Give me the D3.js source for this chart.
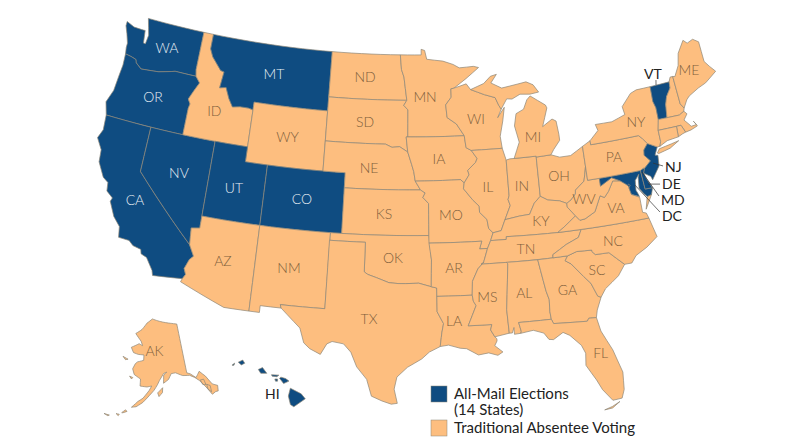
<![CDATA[<!DOCTYPE html>
<html>
<head>
<meta charset="utf-8">
<script src="https://cdn.jsdelivr.net/npm/d3@7"></script>
<style>
  html, body { margin: 0; padding: 0; background: #fff; }
  svg { display: block; }
  text { font-family: Lato, sans-serif; }
</style>
</head>
<body>
<svg id="map" width="800" height="447"></svg>
<script>
// State outlines as [lon, lat], read off the picture / rough geography
const WA = [[[-124.7,48.4],[-123.9,48.17],[-123.1,48.15],[-122.75,48.15],[-122.6,47.3],[-122.4,47.3],[-122.3,47.9],[-122.5,48.4],[-122.75,49],[-117.03,49],[-117.04,46.42],[-116.92,45.99],[-118.98,46],[-119.3,45.93],[-120.5,45.7],[-121.2,45.65],[-122.2,45.58],[-122.8,45.9],[-122.9,46.1],[-123.4,46.2],[-124,46.27],[-124.1,46.7],[-124.1,47],[-124.4,47.6],[-124.7,48.1]]];
const OR = [[[-124,46.27],[-123.4,46.2],[-122.9,46.1],[-122.8,45.9],[-122.2,45.58],[-121.2,45.65],[-120.5,45.7],[-119.3,45.93],[-118.98,46],[-116.92,45.99],[-116.46,45.6],[-116.85,45],[-117.2,44.4],[-116.95,44.1],[-117.03,43.8],[-117.03,42],[-124.2,42],[-124.55,42.84],[-124.15,43.7],[-124.05,44.7],[-123.95,45.5]]];
const CA = [[[-124.2,42],[-120,42],[-120,39],[-114.63,35],[-114.14,34.3],[-114.43,34.05],[-114.72,33.4],[-114.52,33.03],[-114.72,32.72],[-117.12,32.53],[-117.25,32.85],[-117.9,33.6],[-118.4,33.75],[-118.5,34.03],[-119.2,34.15],[-119.6,34.42],[-120.5,34.45],[-120.65,35.15],[-121.3,35.7],[-121.9,36.6],[-121.8,36.85],[-122.4,37.2],[-122.5,37.75],[-123,38],[-123.7,38.9],[-123.8,39.7],[-124.4,40.4],[-124.1,41]]];
const NV = [[[-120,42],[-114.04,42],[-114.04,36.2],[-114.75,36.1],[-114.63,35],[-120,39]]];
const ID = [[[-117.03,49],[-116.05,49],[-116.05,48],[-115.7,47.5],[-114.7,46.7],[-114.35,46.65],[-114.5,45.55],[-113.9,45.65],[-113.45,44.95],[-113,44.45],[-112.3,44.55],[-111.5,44.55],[-111.05,44.48],[-111.05,42],[-117.03,42],[-117.03,43.8],[-116.95,44.1],[-117.2,44.4],[-116.85,45],[-116.46,45.6],[-116.92,45.99],[-117.04,46.42]]];
const MT = [[[-116.05,49],[-104.05,49],[-104.05,45],[-111.05,45],[-111.05,44.48],[-111.5,44.55],[-112.3,44.55],[-113,44.45],[-113.45,44.95],[-113.9,45.65],[-114.5,45.55],[-114.35,46.65],[-114.7,46.7],[-115.7,47.5],[-116.05,48]]];
const WY = [[[-111.05,45],[-104.05,45],[-104.05,41],[-111.05,41]]];
const UT = [[[-114.04,42],[-111.05,42],[-111.05,41],[-109.05,41],[-109.05,37],[-114.04,37]]];
const CO = [[[-109.05,41],[-102.05,41],[-102.05,37],[-109.05,37]]];
const AZ = [[[-114.04,37],[-109.05,37],[-109.05,31.33],[-111.07,31.33],[-114.81,32.5],[-114.72,32.72],[-114.52,33.03],[-114.72,33.4],[-114.43,34.05],[-114.14,34.3],[-114.63,35],[-114.75,36.1],[-114.04,36.2]]];
const NM = [[[-109.05,37],[-103,37],[-103.04,32],[-106.62,32],[-106.53,31.78],[-108.21,31.78],[-108.21,31.33],[-109.05,31.33]]];
const ND = [[[-104.05,49],[-97.23,49],[-97.1,48],[-96.85,47.5],[-96.56,45.94],[-104.05,45.94]]];
const SD = [[[-104.05,45.94],[-96.56,45.94],[-96.85,45.6],[-96.45,45.3],[-96.45,43.5],[-96.6,43.5],[-96.45,42.5],[-97.2,42.85],[-97.9,42.8],[-98.5,43],[-104.05,43]]];
const NE = [[[-104.05,43],[-98.5,43],[-97.9,42.8],[-97.2,42.85],[-96.45,42.5],[-96.1,41.7],[-95.9,41.2],[-95.77,40.58],[-95.31,40],[-102.05,40],[-102.05,41],[-104.05,41]]];
const KS = [[[-102.05,40],[-95.31,40],[-94.9,39.8],[-95.1,39.5],[-94.61,39.1],[-94.62,37],[-102.05,37]]];
const OK = [[[-103,37],[-94.62,37],[-94.43,35.4],[-94.48,33.64],[-95.5,33.88],[-96.6,33.85],[-97.2,33.85],[-97.95,33.9],[-98.95,34.2],[-99.7,34.4],[-100,34.56],[-100,36.5],[-103,36.5]]];
const TX = [[[-103.04,36.5],[-100,36.5],[-100,34.56],[-99.7,34.4],[-98.95,34.2],[-97.95,33.9],[-97.2,33.85],[-96.6,33.85],[-95.5,33.88],[-94.48,33.64],[-94.04,33.55],[-94.04,31.99],[-93.55,31.2],[-93.7,30.6],[-93.75,30.3],[-93.85,29.7],[-94.7,29.35],[-95.3,28.9],[-96.4,28.35],[-97.2,27.7],[-97.4,26.9],[-97.15,25.96],[-97.6,25.9],[-98.3,26.1],[-99.1,26.4],[-99.5,27.5],[-100.3,28.3],[-100.8,29.25],[-101.4,29.77],[-102.3,29.88],[-102.7,29.7],[-103.15,28.98],[-104,29.3],[-104.5,29.65],[-104.9,30.6],[-106,31.4],[-106.53,31.78],[-106.62,32],[-103.04,32]]];
const MN = [[[-97.23,49],[-95.15,49],[-95.15,49.38],[-94.8,49.3],[-94.6,48.7],[-93,48.55],[-92,48.3],[-91.4,48.05],[-90,48.1],[-89.5,48],[-90.8,47.3],[-92,46.7],[-92.3,46.66],[-92.3,46.1],[-92.85,45.6],[-92.75,44.75],[-91.9,44.3],[-91.22,43.5],[-96.45,43.5],[-96.45,45.3],[-96.85,45.6],[-96.56,45.94],[-96.85,47.5],[-97.1,48]]];
const IA = [[[-96.6,43.5],[-91.22,43.5],[-91.1,42.7],[-90.64,42.5],[-90.15,41.95],[-90.3,41.7],[-91.05,41.2],[-90.95,40.9],[-91.42,40.38],[-91.73,40.61],[-95.77,40.58],[-95.9,41.2],[-96.1,41.7],[-96.45,42.5]]];
const MO = [[[-95.77,40.58],[-91.73,40.61],[-91.42,40.38],[-91.5,40],[-90.75,39.25],[-90.2,38.8],[-90.2,38.4],[-89.6,37.9],[-89.5,37.3],[-89.15,37],[-89.4,36.5],[-89.7,36],[-90.37,36],[-90.15,36.5],[-94.62,36.5],[-94.62,37],[-94.61,39.1],[-95.1,39.5],[-94.9,39.8],[-95.31,40]]];
const AR = [[[-94.62,36.5],[-90.15,36.5],[-90.37,36],[-89.7,36],[-90.1,35.1],[-90.6,34.7],[-91.1,33.9],[-91.17,33],[-94.04,33],[-94.04,33.55],[-94.48,33.64],[-94.43,35.4]]];
const LA = [[[-94.04,33],[-91.17,33],[-91.1,32.6],[-90.9,32.3],[-91.6,31],[-89.73,31],[-89.85,30.65],[-89.55,30.18],[-89.4,30.05],[-89.4,29.9],[-89.6,29.6],[-89,29.15],[-89.4,28.95],[-90.1,29.15],[-90.9,29.05],[-91.8,29.5],[-92.3,29.55],[-93.2,29.78],[-93.85,29.7],[-93.75,30.3],[-93.7,30.6],[-93.55,31.2],[-94.04,31.99]]];
const WI = [[[-92.3,46.66],[-92,46.7],[-90.8,46.95],[-90.4,46.55],[-89.1,46.15],[-88.1,45.9],[-87.8,45.35],[-87.6,45.1],[-88,44.55],[-87.3,45.2],[-87.55,44.3],[-87.9,43.3],[-87.8,42.5],[-90.64,42.5],[-91.1,42.7],[-91.22,43.5],[-91.9,44.3],[-92.75,44.75],[-92.85,45.6],[-92.3,46.1]]];
const IL = [[[-90.64,42.5],[-87.8,42.5],[-87.53,41.7],[-87.53,39.35],[-87.65,39.1],[-87.5,38.7],[-88.05,37.8],[-88.45,37.1],[-89.15,37],[-89.5,37.3],[-89.6,37.9],[-90.2,38.4],[-90.2,38.8],[-90.75,39.25],[-91.5,40],[-91.42,40.38],[-90.95,40.9],[-91.05,41.2],[-90.3,41.7],[-90.15,41.95]]];
const IN = [[[-87.53,41.7],[-87.2,41.76],[-84.8,41.76],[-84.82,39.1],[-85.4,38.7],[-85.9,38],[-86.8,37.95],[-88.05,37.8],[-87.5,38.7],[-87.65,39.1],[-87.53,39.35]]];
const OH = [[[-84.8,41.7],[-83.45,41.73],[-82.7,41.5],[-81.7,41.5],[-80.52,41.98],[-80.52,40.64],[-80.7,40.1],[-80.85,39.7],[-81.7,39.2],[-81.75,38.95],[-82.2,38.6],[-82.6,38.42],[-83.2,38.65],[-84.2,38.8],[-84.82,39.1]]];
const KY = [[[-89.4,36.5],[-88.07,36.5],[-88.05,36.68],[-83.68,36.6],[-83.1,36.9],[-82,37.53],[-82.6,38.17],[-82.6,38.42],[-83.2,38.65],[-84.2,38.8],[-84.82,39.1],[-85.4,38.7],[-85.9,38],[-86.8,37.95],[-88.05,37.8],[-88.45,37.1],[-89.15,37]]];
const TN = [[[-89.7,36],[-89.4,36.5],[-88.07,36.5],[-88.05,36.68],[-83.68,36.6],[-81.68,36.59],[-82,36.1],[-83.1,35.75],[-84.3,35.2],[-84.32,34.99],[-90.3,35],[-90.1,35.1]]];
const MS = [[[-90.3,35],[-88.2,35],[-88.1,34.9],[-88.47,31.9],[-88.4,30.35],[-89.55,30.18],[-89.85,30.65],[-89.73,31],[-91.6,31],[-90.9,32.3],[-91.1,32.6],[-91.17,33],[-91.1,33.9],[-90.6,34.7],[-90.1,35.1]]];
const AL = [[[-88.2,35],[-85.6,34.98],[-85.18,32.87],[-85,32.3],[-85.05,31.5],[-85,31],[-87.6,31],[-87.45,30.4],[-87.5,30.28],[-88,30.25],[-88,30.7],[-88.15,30.35],[-88.4,30.35],[-88.47,31.9],[-88.1,34.9]]];
const GA = [[[-85.6,34.98],[-83.1,35],[-83.35,34.7],[-82.9,34.45],[-82,33.5],[-81.5,33],[-81.1,32.1],[-80.85,32],[-81.3,31.2],[-81.45,30.72],[-82.05,30.75],[-82.2,30.57],[-84.86,30.7],[-85,31],[-85.05,31.5],[-85,32.3],[-85.18,32.87]]];
const FL = [[[-87.6,31],[-85,31],[-84.86,30.7],[-82.2,30.57],[-82.05,30.75],[-81.45,30.72],[-81.25,29.8],[-80.55,28.45],[-80.05,26.9],[-80.15,25.75],[-80.4,25.2],[-81.1,25.15],[-81.75,25.95],[-82.1,26.65],[-82.75,27.7],[-82.65,28.5],[-82.9,29.05],[-83.7,29.8],[-84.2,30.05],[-85,29.65],[-85.35,29.7],[-85.7,30.15],[-86.5,30.4],[-87.5,30.28],[-87.45,30.4]],
  [[-81.8,24.6],[-81.2,24.75],[-80.6,25],[-81.2,24.65]]];
const SC = [[[-83.1,35],[-82.3,35.2],[-81.05,35.15],[-81.05,35.05],[-80.8,34.82],[-79.67,34.8],[-78.55,33.87],[-79.2,33.2],[-80.4,32.5],[-80.85,32],[-81.1,32.1],[-81.5,33],[-82,33.5],[-82.9,34.45],[-83.35,34.7]]];
const NC = [[[-84.32,34.99],[-84.3,35.2],[-83.1,35.75],[-82,36.1],[-81.68,36.59],[-75.87,36.55],[-75.5,35.25],[-76.5,34.7],[-77.5,34.3],[-77.95,33.87],[-78.55,33.87],[-79.67,34.8],[-80.8,34.82],[-81.05,35.05],[-81.05,35.15],[-82.3,35.2],[-83.1,35]]];
const VA = [[[-83.68,36.6],[-81.68,36.59],[-75.87,36.55],[-76,36.9],[-76.3,37],[-76.3,37.6],[-76.3,38],[-76.95,38.3],[-77.05,38.7],[-77.04,38.85],[-77.3,39.05],[-77.72,39.32],[-78.35,39.4],[-78.87,38.77],[-79.3,38.42],[-79.65,38.58],[-80.3,37.6],[-81.22,37.24],[-81.68,37.2],[-82,37.53],[-83.1,36.9]],
  [[-75.25,38.03],[-75.95,37.15],[-75.65,37.95]]];
const WV = [[[-82.6,38.42],[-82.2,38.6],[-81.75,38.95],[-81.7,39.2],[-80.85,39.7],[-80.7,40.1],[-80.52,40.64],[-80.52,39.72],[-79.48,39.72],[-79.48,39.2],[-78.4,39.62],[-77.72,39.32],[-78.35,39.4],[-78.87,38.77],[-79.3,38.42],[-79.65,38.58],[-80.3,37.6],[-81.22,37.24],[-81.68,37.2],[-82,37.53],[-82.6,38.17]]];
const MD = [[[-79.48,39.72],[-75.79,39.72],[-75.7,38.46],[-75.05,38.45],[-75.25,38.03],[-75.65,37.95],[-75.9,38.2],[-76.2,38.6],[-76.1,39.3],[-76,39.5],[-76.4,39.15],[-76.5,38.5],[-76.4,38.3],[-76.3,38.05],[-76.95,38.3],[-77.05,38.7],[-77.04,38.85],[-77.3,39.05],[-77.72,39.32],[-78.4,39.62],[-79.48,39.2]]];
const DE = [[[-75.79,39.72],[-75.5,39.83],[-75.4,39.8],[-75.55,39.5],[-75.4,39.1],[-75.05,38.45],[-75.7,38.46]]];
const DC = [[[-77.12,38.93],[-77.04,39],[-76.91,38.89],[-77.04,38.79]]];
const PA = [[[-80.52,41.98],[-79.76,42.27],[-79.76,42],[-75.35,42],[-75.05,41.75],[-74.7,41.36],[-75.13,40.99],[-75.2,40.65],[-74.75,40.2],[-75.4,39.8],[-75.5,39.83],[-75.79,39.72],[-80.52,39.72]]];
const NJ = [[[-74.7,41.36],[-73.9,41],[-74.25,40.5],[-74,40.45],[-74.1,39.75],[-74.9,38.95],[-75,39.2],[-75.55,39.5],[-75.4,39.8],[-74.75,40.2],[-75.2,40.65],[-75.13,40.99]]];
const NY = [[[-79.76,42.27],[-78.9,42.85],[-79.05,43.27],[-77.5,43.25],[-76.2,43.55],[-76.3,44.1],[-75.3,44.85],[-74.7,45],[-73.35,45],[-73.4,44],[-73.25,43.55],[-73.27,42.75],[-73.5,42.05],[-73.5,41.3],[-73.65,41],[-73.9,41],[-74.7,41.36],[-75.05,41.75],[-75.35,42],[-79.76,42]],
  [[-74,40.6],[-73.75,40.85],[-72.6,40.98],[-71.9,41.07],[-72.8,40.72],[-73.9,40.55]]];
const VT = [[[-73.35,45],[-71.5,45.01],[-71.55,44.6],[-72.05,44.1],[-72.3,43.6],[-72.46,42.73],[-73.27,42.75],[-73.25,43.55],[-73.4,44]]];
const NH = [[[-71.5,45.01],[-71.3,45.3],[-71.05,45.3],[-70.98,43.4],[-70.72,43.07],[-70.82,42.87],[-71.3,42.7],[-72.46,42.73],[-72.3,43.6],[-72.05,44.1],[-71.55,44.6]]];
const ME = [[[-71.05,45.3],[-70.85,45.25],[-70.3,45.9],[-70,46.7],[-69.23,47.46],[-68.9,47.2],[-68.3,47.35],[-67.8,47.07],[-67.8,45.7],[-67.45,45.3],[-67,44.85],[-68.2,44.3],[-69,44.1],[-70,43.75],[-70.3,43.55],[-70.72,43.07],[-70.98,43.4]]];
const MA = [[[-73.27,42.75],[-71.3,42.7],[-70.82,42.87],[-70.6,42.65],[-71,42.3],[-70.65,41.95],[-70.5,41.78],[-70,41.8],[-70.2,42.07],[-69.95,41.7],[-70.6,41.55],[-71.12,41.5],[-71.2,41.68],[-71.38,42.02],[-71.8,42.02],[-73.5,42.05]]];
const RI = [[[-71.8,42.02],[-71.38,42.02],[-71.12,41.5],[-71.4,41.45],[-71.85,41.32]]];
const CT = [[[-73.5,42.05],[-71.8,42.02],[-71.85,41.32],[-72.9,41.25],[-73.65,41],[-73.5,41.3]]];
const MI = [[[-86.8,41.76],[-84.8,41.76],[-84.8,41.7],[-83.45,41.73],[-83.15,42.05],[-82.5,42.6],[-82.5,43],[-82.6,43.9],[-82.95,44.07],[-83.9,43.65],[-83.3,44.85],[-83.4,45.05],[-84.75,45.78],[-85.1,45.55],[-85.5,44.95],[-86.25,44.7],[-86.5,43.9],[-86.2,42.8]],
  [[-90.4,46.55],[-89.1,46.9],[-88.4,47.35],[-87.8,47.45],[-88.4,46.9],[-87.4,46.5],[-85,46.75],[-84.35,46.5],[-83.9,45.97],[-84.75,45.9],[-85.7,45.97],[-86.5,45.7],[-87,45.75],[-87.6,45.1],[-87.8,45.35],[-88.1,45.9],[-89.1,46.15]]];
const AK = [[[-141,69.65],[-141,60.3],[-139.5,59.9],[-137.5,58.9],[-135.5,59.8],[-133.5,58.5],[-131.8,56.6],[-130,55.9],[-130.5,54.9],[-131.5,55],[-133,54.8],[-134,56],[-135,57],[-136.5,58.2],[-138,59],[-140,59.7],[-143,60],[-146,60.8],[-148,60.8],[-149.5,59.8],[-151.8,59.2],[-151.5,60.7],[-150,61.2],[-151.5,61],[-153.5,59.8],[-154.5,59],[-156,58],[-158,57],[-160.5,55.7],[-163,54.8],[-164.8,54.6],[-162.5,55.8],[-160.5,56.5],[-158,58],[-157,58.8],[-159,58.6],[-162,58.7],[-162,60],[-165,60.7],[-166,61.7],[-165,62.7],[-164,63.1],[-161,63.5],[-161,64.5],[-164,64.5],[-166.5,64.7],[-168,65.6],[-164,66.5],[-162,66.2],[-163,67],[-166.5,68.3],[-163,69.2],[-160,70.5],[-156.5,71.3],[-152,70.8],[-148,70.4],[-144,70]],
  [[-154.5,57.5],[-152.3,58.4],[-152.5,57.5],[-154,56.8]],
  [[-136,58.2],[-134.6,58.1],[-134.3,57],[-135.5,57.2]],
  [[-134,57],[-132.8,56.5],[-133,55.3],[-134,56]],
  [[-167,60.25],[-165.5,60.1],[-166,59.8]],
  [[-171.5,63.6],[-168.8,63.3],[-170,63.1]],
  [[-166.9,53.95],[-168.2,53.3],[-167.8,53.3],[-166.3,53.7]],
  [[-170.2,52.9],[-169,52.9],[-169.3,52.6]],
  [[-174.5,52.3],[-172.5,52.3],[-173,52.1]]];
const HI = [[[-155.9,20.25],[-155.1,19.85],[-154.8,19.5],[-155.65,18.95],[-155.9,19.1],[-156.05,19.7]],
  [[-156.7,20.95],[-156.6,21.03],[-156.25,20.93],[-156,20.75],[-156.4,20.58]],
  [[-158.28,21.57],[-157.97,21.7],[-157.65,21.3],[-158.1,21.3]],
  [[-159.78,22.07],[-159.45,22.22],[-159.3,22],[-159.55,21.88]],
  [[-157.3,21.2],[-156.75,21.17],[-156.9,21.06],[-157.25,21.1]],
  [[-157.05,20.9],[-156.85,20.9],[-156.85,20.75],[-157,20.75]],
  [[-160.25,21.85],[-160.05,22],[-160.1,21.85]]];

const mainStates = {WA,OR,CA,NV,ID,MT,WY,UT,CO,AZ,NM,ND,SD,NE,KS,OK,TX,MN,IA,MO,AR,LA,WI,IL,IN,OH,KY,TN,MS,AL,GA,FL,SC,NC,VA,WV,MD,DE,DC,PA,NJ,NY,VT,NH,ME,MA,RI,CT,MI};
const mailStates = ["WA","OR","CA","NV","MT","UT","CO","HI","VT","NJ","DE","MD","DC"];

// Label anchors, [lon, lat]
const labelNames = ["WA","OR","CA","NV","ID","MT","WY","UT","CO","AZ","NM","ND","SD","NE","KS","OK","TX","MN","IA","MO","AR","LA","MS","AL","GA","FL","SC","NC","TN","KY","IL","IN","OH","WV","VA","PA","NY","MI","WI","ME"];
const labelSpots = [[-120.26,47.39],[-120.46,43.97],[-119.89,37.09],[-116.68,39.48],[-114.6,43.95],[-109.54,47.06],[-107.55,43],[-111.7,39.18],[-105.68,39.04],[-111.69,34.33],[-106.22,34.45],[-100.66,47.43],[-100.47,44.42],[-99.93,41.39],[-98.48,38.39],[-97.64,35.52],[-99.48,31.48],[-94.81,46.16],[-93.61,42.02],[-92.68,38.31],[-92.57,34.83],[-92.71,31.35],[-89.96,32.8],[-86.95,32.9],[-83.45,32.75],[-81.5,28.4],[-80.86,33.8],[-79.18,35.51],[-86.49,35.76],[-84.99,37.48],[-89.33,40.02],[-86.33,39.9],[-82.97,40.27],[-81.07,38.54],[-78.47,37.61],[-77.87,40.93],[-75.32,42.91],[-84.89,43.04],[-90.04,44.56],[-69.4,45.43]];
const calloutNames = ["VT","NJ","DE","MD","DC"];
const calloutFrom = [[-72.77,45.01],[-74.57,40.02],[-75.37,38.74],[-75.68,39.6],[-76.5,38.85]];
const calloutTo = [[-72.67,45.34],[-73.76,39.69],[-74.35,38.57],[-74.65,37.82],[-74.85,36.78]];
const calloutDy = [-1, 6, 5, 9, 9];

const legendLabels = ["All-Mail Elections", "(14 States)", "Traditional Absentee Voting"];

const BLUE = "#0f4c81", ORANGE = "#fdbe7f", EDGE = "#8c8779";

const svg = d3.select("#map");

// the source map is not quite to scale, x and y are stretched a little differently
const stretched = (proj, sx, sy, tx, ty) => p => {
    const u = proj(p);
    return [sx * u[0] + tx, sy * u[1] + ty];
};
const projection = stretched(
    d3.geoAlbers().rotate([96, 0]).center([0, 0]).parallels([30, 40]).scale(1).translate([0, 0]),
    845.5, 870.6, 412.66, 774.23);
const alaska = stretched(
    d3.geoConicEqualArea().rotate([157, 0]).center([1, 58.5]).parallels([55, 65]).scale(257).translate([154, 389]),
    1, 1.2, 0, -79.2);
const hawaii = d3.geoConicEqualArea()
    .rotate([157, 0]).center([-3, 19.9]).parallels([8, 18])
    .scale(820).translate([235, 393]);

// borders like the 49th parallel have to curve, so split long edges before projecting
function densify(ring) {
    const pts = [];
    ring.forEach((p, i) => {
        const q = ring[(i + 1) % ring.length];
        const n = Math.ceil(Math.max(Math.abs(q[0] - p[0]), Math.abs(q[1] - p[1])));
        for (let k = 0; k < n; k++) pts.push([p[0] + (q[0] - p[0]) * k / n, p[1] + (q[1] - p[1]) * k / n]);
    });
    return pts;
}
const line = d3.line().curve(d3.curveLinearClosed);
function drawState(id, rings, proj) {
    svg.append("path")
        .attr("d", rings.map(r => line(densify(r).map(proj))).join(""))
        .attr("fill", mailStates.includes(id) ? BLUE : ORANGE)
        .attr("stroke", EDGE)
        .attr("stroke-width", 0.7)
        .attr("stroke-linejoin", "round");
}
Object.keys(mainStates).forEach(id => drawState(id, mainStates[id], projection));
drawState("AK", AK, alaska);
drawState("HI", HI, hawaii);

// Labels inside the states
labelNames.forEach((name, i) => {
    const p = projection(labelSpots[i]);
    svg.append("text").attr("x", p[0]).attr("y", p[1] + 5)
        .attr("text-anchor", "middle").attr("font-size", 14).attr("font-weight", 300)
        .attr("fill", mailStates.includes(name) ? "#e8eef4" : "#7d5f3c")
        .text(name);
});
const akSpot = alaska([-155.5, 65.25]);
svg.append("text").attr("x", akSpot[0]).attr("y", akSpot[1] + 5).attr("text-anchor", "middle")
    .attr("font-size", 14).attr("font-weight", 300).attr("fill", "#7d5f3c").text("AK");
const hiSpot = hawaii([-157.23, 19.88]);
svg.append("text").attr("x", hiSpot[0]).attr("y", hiSpot[1] + 5).attr("text-anchor", "middle")
    .attr("font-size", 14).attr("fill", "#222").text("HI");

// Small states get a leader line
calloutNames.forEach((name, i) => {
    const a = projection(calloutFrom[i]), b = projection(calloutTo[i]);
    svg.append("line").attr("x1", a[0]).attr("y1", a[1]).attr("x2", b[0]).attr("y2", b[1])
        .attr("stroke", "#333").attr("stroke-width", 0.7);
    const top = name === "VT";
    svg.append("text").attr("x", b[0] + (top ? -3 : 2)).attr("y", b[1] + calloutDy[i])
        .attr("text-anchor", top ? "middle" : "start")
        .attr("font-size", 14).attr("fill", "#222").text(name);
});

// Legend
const legend = svg.append("g");
legend.append("rect").attr("x", 431).attr("y", 386).attr("width", 16).attr("height", 16)
    .attr("fill", BLUE).attr("stroke", "#8c8779").attr("stroke-width", 0.5);
legend.append("rect").attr("x", 431).attr("y", 420).attr("width", 16).attr("height", 16)
    .attr("fill", ORANGE).attr("stroke", "#8c8779").attr("stroke-width", 0.5);
[398.5, 415, 433].forEach((y, i) => {
    legend.append("text").attr("x", 454).attr("y", y).attr("font-size", 15).attr("fill", "#222").text(legendLabels[i]);
});
</script>
</body>
</html>
]]>
